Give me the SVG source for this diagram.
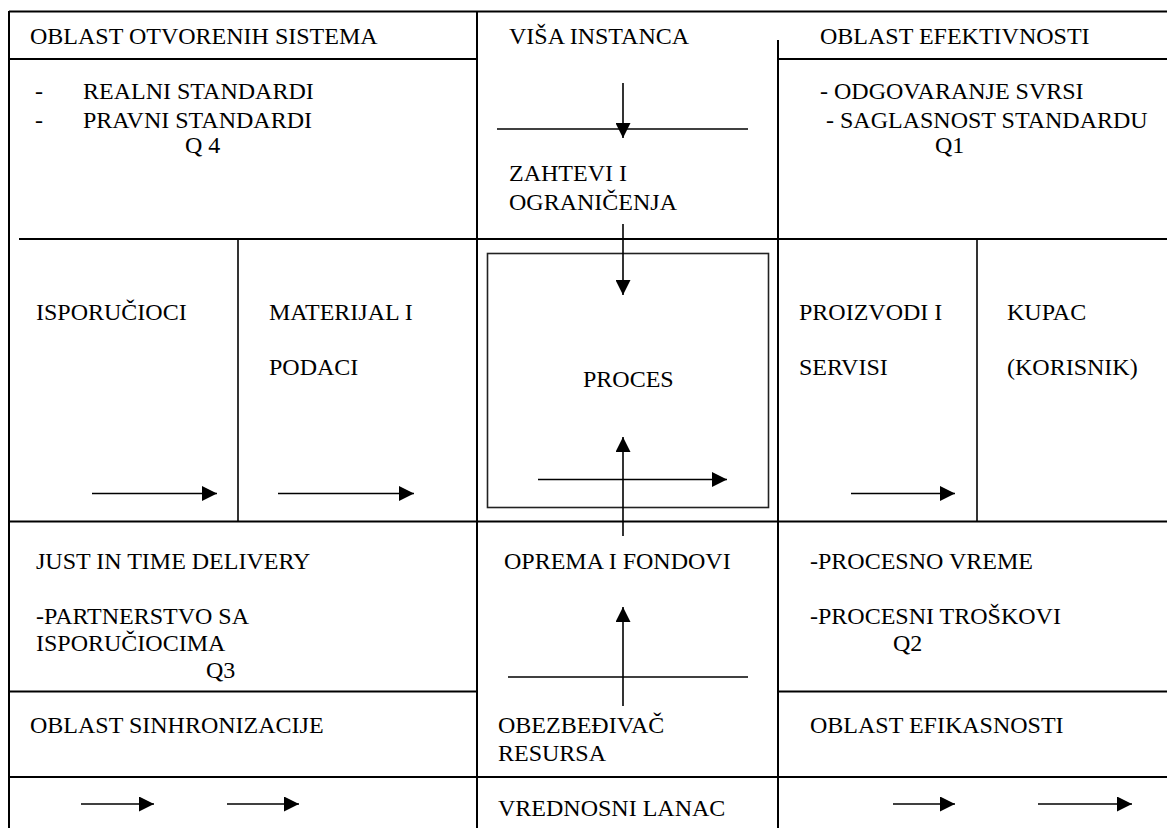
<svg xmlns="http://www.w3.org/2000/svg" width="1167" height="828" viewBox="0 0 1167 828">
  <style>
    .t { font-family: "Liberation Serif", "Times New Roman", serif; font-size: 24px; fill: #000; }
    .grid { stroke: #000; stroke-width: 2; fill: none; }
    .thin { stroke: #000; stroke-width: 1.6; fill: none; }
    .box { stroke: #222; stroke-width: 1.6; fill: none; }
    .arr { stroke: #000; stroke-width: 1.6; fill: none; marker-end: url(#head); }
  </style>
  <defs>
    <marker id="head" viewBox="0 0 15 15" markerWidth="15" markerHeight="15" refX="15" refY="7.5" markerUnits="userSpaceOnUse" orient="auto">
      <path d="M0,0 L15,7.5 L0,15 z" fill="#000"/>
    </marker>
  </defs>
  <rect width="1167" height="828" fill="#fff"/>

  <!-- table frame -->
  <g id="grid">
    <line class="grid" x1="9" y1="11.5" x2="1167" y2="11.5"/>
    <line class="grid" x1="9" y1="11" x2="9" y2="828"/>
    <line class="grid" x1="477" y1="11" x2="477" y2="828"/>
    <line class="grid" x1="778" y1="40" x2="778" y2="828"/>
    <line class="grid" x1="9" y1="59" x2="477" y2="59"/>
    <line class="grid" x1="778" y1="59" x2="1167" y2="59"/>
    <line class="grid" x1="19" y1="239" x2="1167" y2="239"/>
    <line class="thin" x1="238" y1="239" x2="238" y2="521"/>
    <line class="thin" x1="977" y1="239" x2="977" y2="521"/>
    <line class="grid" x1="9" y1="521.5" x2="1167" y2="521.5"/>
    <line class="grid" x1="9" y1="691.5" x2="477" y2="691.5"/>
    <line class="grid" x1="778" y1="691.5" x2="1167" y2="691.5"/>
    <line class="grid" x1="9" y1="777" x2="1167" y2="777"/>
  </g>

  <!-- top row -->
  <g id="oblast-otvorenih">
    <text class="t" x="30" y="44">OBLAST OTVORENIH SISTEMA</text>
    <text class="t" x="35" y="99">-</text>
    <text class="t" x="83" y="99">REALNI STANDARDI</text>
    <text class="t" x="35" y="128">-</text>
    <text class="t" x="83" y="128">PRAVNI STANDARDI</text>
    <text class="t" x="185" y="153">Q 4</text>
  </g>
  <g id="visa-instanca">
    <text class="t" x="509" y="44">VIŠA INSTANCA</text>
    <line class="thin" x1="497" y1="129" x2="748" y2="129"/>
    <text class="t" x="509" y="181">ZAHTEVI I</text>
    <text class="t" x="509" y="210">OGRANIČENJA</text>
  </g>
  <g id="oblast-efektivnosti">
    <text class="t" x="820" y="44">OBLAST EFEKTIVNOSTI</text>
    <text class="t" x="820" y="99">- ODGOVARANJE SVRSI</text>
    <text class="t" x="826" y="128">- SAGLASNOST STANDARDU</text>
    <text class="t" x="935" y="153">Q1</text>
  </g>

  <!-- middle row -->
  <g id="isporucioci">
    <text class="t" x="36" y="320">ISPORUČIOCI</text>
  </g>
  <g id="materijal">
    <text class="t" x="269" y="320">MATERIJAL I</text>
    <text class="t" x="269" y="375">PODACI</text>
  </g>
  <g id="proces">
    <rect class="box" x="487.5" y="253.5" width="281" height="254"/>
    <text class="t" x="583" y="387">PROCES</text>
  </g>
  <g id="proizvodi">
    <text class="t" x="799" y="320">PROIZVODI I</text>
    <text class="t" x="799" y="375">SERVISI</text>
  </g>
  <g id="kupac">
    <text class="t" x="1007" y="320">KUPAC</text>
    <text class="t" x="1007" y="375">(KORISNIK)</text>
  </g>

  <!-- lower rows -->
  <g id="jit">
    <text class="t" x="36" y="569">JUST IN TIME DELIVERY</text>
    <text class="t" x="36" y="624">-PARTNERSTVO SA</text>
    <text class="t" x="36" y="651">ISPORUČIOCIMA</text>
    <text class="t" x="206" y="678">Q3</text>
  </g>
  <g id="oblast-sinhronizacije">
    <text class="t" x="30" y="733">OBLAST SINHRONIZACIJE</text>
  </g>
  <g id="oprema">
    <text class="t" x="504" y="569">OPREMA I FONDOVI</text>
    <line class="thin" x1="508" y1="677" x2="748" y2="677"/>
  </g>
  <g id="obezbedjivac">
    <text class="t" x="498" y="733">OBEZBEĐIVAČ</text>
    <text class="t" x="498" y="761">RESURSA</text>
  </g>
  <g id="vrednosni-lanac">
    <text class="t" x="498" y="816">VREDNOSNI LANAC</text>
  </g>
  <g id="procesno">
    <text class="t" x="810" y="569">-PROCESNO VREME</text>
    <text class="t" x="810" y="624">-PROCESNI TROŠKOVI</text>
    <text class="t" x="893" y="651">Q2</text>
  </g>
  <g id="oblast-efikasnosti">
    <text class="t" x="810" y="733">OBLAST EFIKASNOSTI</text>
  </g>

  <!-- flows -->
  <g id="connectors">
    <line class="arr" x1="623" y1="83" x2="623" y2="138"/>
    <line class="arr" x1="623" y1="224" x2="623" y2="295"/>
    <line class="arr" x1="623" y1="536" x2="623" y2="437"/>
    <line class="arr" x1="623" y1="706" x2="623" y2="607"/>
    <line class="arr" x1="538" y1="479.5" x2="727" y2="479.5"/>
    <line class="arr" x1="92" y1="493.5" x2="217" y2="493.5"/>
    <line class="arr" x1="278" y1="493.5" x2="414" y2="493.5"/>
    <line class="arr" x1="851" y1="493.5" x2="955" y2="493.5"/>
    <line class="arr" x1="81" y1="804" x2="154" y2="804"/>
    <line class="arr" x1="227" y1="804" x2="299" y2="804"/>
    <line class="arr" x1="893" y1="804" x2="955" y2="804"/>
    <line class="arr" x1="1038" y1="804" x2="1132" y2="804"/>
  </g>
</svg>
